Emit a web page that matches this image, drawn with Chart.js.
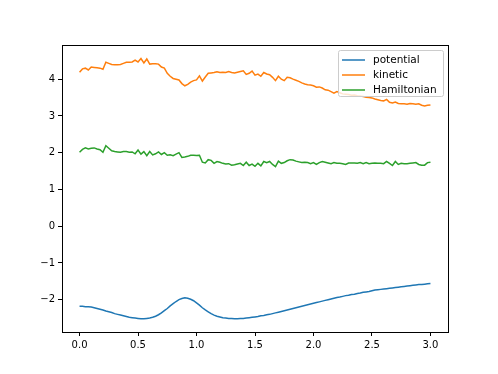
<!DOCTYPE html>
<html>
<head>
<meta charset="utf-8">
<script src="https://cdn.jsdelivr.net/npm/chart.js@4/dist/chart.umd.min.js"></script>
<style>
  html, body { margin: 0; padding: 0; background: #fff; }
  #wrap { width: 498px; height: 374px; }
</style>
</head>
<body>
<div id="wrap"><canvas id="energyChart"></canvas></div>
<script>
// time grid: 0 .. 3.0, step 0.025
const times = Array.from({ length: 121 }, (_, i) => +(i * 0.025).toFixed(3));

const potential = [
    -2.18, -2.18, -2.19, -2.19, -2.20, -2.22, -2.24, -2.26, -2.28, -2.31,
    -2.33, -2.35, -2.38, -2.40, -2.42, -2.44, -2.46, -2.48, -2.49, -2.50,
    -2.51, -2.52, -2.52, -2.51, -2.50, -2.48, -2.45, -2.41, -2.36, -2.30,
    -2.24, -2.17, -2.11, -2.05, -2.00, -1.97, -1.95, -1.96, -1.99, -2.03,
    -2.09, -2.15, -2.22, -2.28, -2.33, -2.38, -2.42, -2.45, -2.47, -2.49,
    -2.50, -2.51, -2.51, -2.52, -2.52, -2.51, -2.51, -2.50, -2.49, -2.48,
    -2.47, -2.46, -2.44, -2.43, -2.41, -2.40, -2.38, -2.36, -2.34, -2.32,
    -2.30, -2.28, -2.26, -2.24, -2.22, -2.20, -2.18, -2.16, -2.14, -2.12,
    -2.10, -2.08, -2.06, -2.04, -2.02, -2.00, -1.98, -1.96, -1.94, -1.93,
    -1.91, -1.89, -1.88, -1.86, -1.85, -1.83, -1.82, -1.80, -1.79, -1.78,
    -1.76, -1.74, -1.73, -1.72, -1.71, -1.70, -1.69, -1.68, -1.67, -1.66,
    -1.65, -1.64, -1.63, -1.62, -1.61, -1.60, -1.59, -1.59, -1.58, -1.57,
    -1.56
];

const kinetic = [
    4.19, 4.28, 4.30, 4.25, 4.33, 4.32, 4.31, 4.30, 4.27, 4.46,
    4.43, 4.40, 4.39, 4.39, 4.40, 4.43, 4.46, 4.46, 4.47, 4.52,
    4.47, 4.56, 4.44, 4.55, 4.41, 4.42, 4.42, 4.41, 4.33, 4.30,
    4.16, 4.08, 4.02, 4.00, 3.98, 3.88, 3.82, 3.86, 3.92, 3.96,
    3.98, 4.09, 3.95, 4.06, 4.16, 4.17, 4.18, 4.20, 4.18, 4.19,
    4.18, 4.21, 4.18, 4.17, 4.19, 4.21, 4.23, 4.13, 4.16, 4.22,
    4.11, 4.14, 4.08, 4.18, 4.14, 4.12, 4.05, 3.96, 4.08, 4.00,
    3.96, 4.05, 4.04, 4.00, 3.97, 3.94, 3.90, 3.87, 3.85, 3.84,
    3.82, 3.78, 3.79, 3.76, 3.71, 3.70, 3.66, 3.62, 3.66, 3.63,
    3.60, 3.59, 3.58, 3.56, 3.57, 3.55, 3.54, 3.53, 3.51, 3.50,
    3.49, 3.46, 3.44, 3.42, 3.41, 3.45, 3.37, 3.35, 3.38, 3.34,
    3.33, 3.33, 3.32, 3.34, 3.33, 3.32, 3.33, 3.29, 3.27, 3.29,
    3.30
];

const hamiltonian = [
    2.01, 2.09, 2.13, 2.10, 2.12, 2.13, 2.10, 2.08, 2.01, 2.19,
    2.12, 2.05, 2.03, 2.02, 2.01, 2.03, 2.03, 2.01, 2.02, 1.97,
    2.07, 1.96, 2.03, 1.92, 2.03, 1.94, 1.97, 2.02, 1.95, 2.00,
    1.93, 1.94, 1.92, 1.96, 2.00, 1.87, 1.88, 1.90, 1.93, 1.93,
    1.92, 1.93, 1.74, 1.72, 1.81, 1.79, 1.71, 1.76, 1.74, 1.71,
    1.69, 1.70, 1.66, 1.67, 1.69, 1.71, 1.65, 1.74, 1.65, 1.69,
    1.63, 1.71, 1.64, 1.76, 1.73, 1.76, 1.68, 1.62, 1.77, 1.71,
    1.73, 1.78, 1.81, 1.80, 1.77, 1.75, 1.73, 1.74, 1.73, 1.70,
    1.73, 1.68, 1.73, 1.76, 1.74, 1.72, 1.70, 1.73, 1.71, 1.71,
    1.70, 1.68, 1.72, 1.72, 1.72, 1.71, 1.73, 1.70, 1.73, 1.70,
    1.71, 1.72, 1.71, 1.71, 1.70, 1.76, 1.71, 1.65, 1.76, 1.68,
    1.71, 1.70, 1.70, 1.71, 1.72, 1.73, 1.68, 1.66, 1.66, 1.73,
    1.74
];

const seriesNames = ["potential", "kinetic", "Hamiltonian"];
const seriesColors = ["#1f77b4", "#ff7f0e", "#2ca02c"];
const xTicks = [0.0, 0.5, 1.0, 1.5, 2.0, 2.5, 3.0];
const yTicks = [-2, -1, 0, 1, 2, 3, 4];

const FONT = "'DejaVu Sans', sans-serif";

function toPoints(ys) {
    return ys.map((y, i) => ({ x: times[i], y: y }));
}

// full box around the axes, like matplotlib spines
const frame = {
    id: 'frame',
    afterDatasetsDraw(chart) {
        const a = chart.chartArea;
        const ctx = chart.ctx;
        ctx.save();
        ctx.strokeStyle = '#000';
        ctx.lineWidth = 1;
        ctx.strokeRect(Math.round(a.left) + 0.5, Math.round(a.top) + 0.5,
            Math.round(a.right - a.left), Math.round(a.bottom - a.top));
        ctx.restore();
    }
};

// legend box in the upper right corner of the axes
const boxLegend = {
    id: 'boxLegend',
    afterDraw(chart) {
        const a = chart.chartArea;
        const ctx = chart.ctx;
        const w = 105, h = 46;
        const x = Math.round(a.right) - 5 - w, y = Math.round(a.top) + 5;
        ctx.save();
        ctx.beginPath();
        ctx.roundRect(x + 0.5, y + 0.5, w, h, 2);
        ctx.fillStyle = 'rgba(255,255,255,0.8)';
        ctx.fill();
        ctx.strokeStyle = '#cccccc';
        ctx.lineWidth = 1;
        ctx.stroke();
        ctx.font = '10.5px ' + FONT;
        ctx.textBaseline = 'middle';
        chart.data.datasets.forEach((ds, i) => {
            const ly = y + 10 + i * 15;
            ctx.beginPath();
            ctx.moveTo(x + 4, ly);
            ctx.lineTo(x + 27, ly);
            ctx.strokeStyle = ds.borderColor;
            ctx.lineWidth = 1.5;
            ctx.stroke();
            ctx.fillStyle = '#000';
            ctx.fillText(ds.label, x + 35, ly);
        });
        ctx.restore();
    }
};

const data = {
    datasets: [
        { label: seriesNames[0], data: toPoints(potential) },
        { label: seriesNames[1], data: toPoints(kinetic) },
        { label: seriesNames[2], data: toPoints(hamiltonian) }
    ].map((ds, i) => Object.assign(ds, {
        borderColor: seriesColors[i],
        backgroundColor: seriesColors[i],
        borderWidth: 1.5,
        pointRadius: 0,
        tension: 0,
        fill: false
    }))
};

const config = {
    type: 'line',
    data: data,
    options: {
        responsive: true,
        maintainAspectRatio: false,
        animation: false,
        layout: { padding: { left: 0, top: 45, right: 50, bottom: 0 } },
        scales: {
            x: {
                type: 'linear',
                min: -0.15,
                max: 3.15,
                afterBuildTicks: (s) => { s.ticks = xTicks.map(v => ({ value: v })); },
                afterFit: (s) => { s.height = 42; },
                grid: { drawOnChartArea: false, drawTicks: true, tickLength: 4, color: '#000' },
                border: { display: true, color: '#000', width: 1 },
                ticks: {
                    color: '#000',
                    font: { family: FONT, size: 10 },
                    padding: 3,
                    maxRotation: 0,
                    callback: (v) => v.toFixed(1)
                }
            },
            y: {
                type: 'linear',
                min: -2.88,
                max: 4.93,
                afterBuildTicks: (s) => { s.ticks = yTicks.map(v => ({ value: v })); },
                afterFit: (s) => { s.width = 62; },
                grid: { drawOnChartArea: false, drawTicks: true, tickLength: 4, color: '#000' },
                border: { display: true, color: '#000', width: 1 },
                ticks: {
                    color: '#000',
                    font: { family: FONT, size: 10 },
                    padding: 3,
                    callback: (v) => (v < 0 ? '\u2212' + Math.abs(v) : String(v))
                }
            }
        },
        plugins: {
            legend: { display: false },
            tooltip: { enabled: false }
        }
    },
    plugins: [frame, boxLegend]
};

var energyChart = new Chart(
    document.getElementById('energyChart'),
    config
);
</script>
</body>
</html>
